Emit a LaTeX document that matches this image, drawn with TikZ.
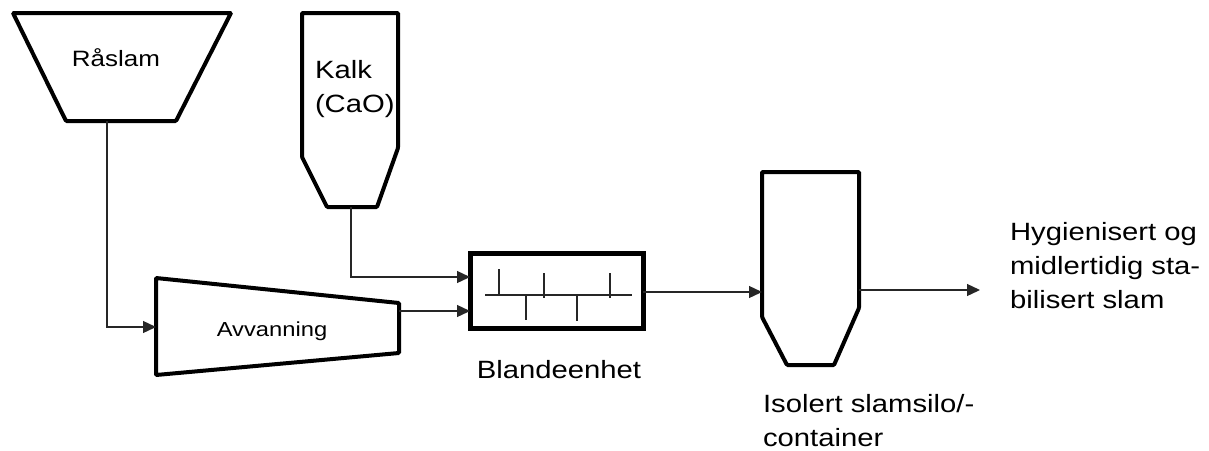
\documentclass[tikz,border=0pt]{standalone}
\usepackage{fontspec}
\setmainfont{Liberation Sans}
\usepackage{graphicx}
\usetikzlibrary{arrows.meta}
\newcommand\lbl[2][l]{\scalebox{1.17}[1]{\begin{tabular}[t]{@{}#1@{}}#2\end{tabular}}}
\tikzset{
  unit/.style={line width=4pt, line join=miter, rounded corners=1pt},
  flow/.style={line width=1.3pt, draw=black!85, -{Triangle[length=13pt,width=12pt]}},
  plain/.style={line width=1.3pt, draw=black!85},
  mixer/.style={line width=1.2pt, draw=black!85},
  txt/.style={inner sep=0pt, outer sep=0pt, font=\fontsize{25}{34}\selectfont}
}
\begin{document}
\begin{tikzpicture}[x=1pt,y=-1pt]
\useasboundingbox (0,0) rectangle (1209,450);
% Råslam hopper
\draw[unit] (13,13) -- (231,13) -- (176,121) -- (66,121) -- cycle;
\coordinate (raslamout) at (107,121);
\node[txt, anchor=base, font=\fontsize{22.2}{30}\selectfont] (raslam) at (116,66) {\lbl{Råslam}};
% Kalk silo
\draw[unit] (302,13) -- (398,13) -- (398,148) -- (377,207) -- (327,207) -- (302,157) -- cycle;
\coordinate (kalkout) at (351,207);
\node[txt, anchor=base west] (kalk) at (315,78) {\lbl{Kalk\\(CaO)}};
% Avvanning
\draw[unit] (156,278) -- (399,303) -- (399,353) -- (156,375) -- cycle;
\coordinate (avvin) at (156,327);
\coordinate (avvout) at (399,311);
\node[txt, anchor=base, font=\fontsize{20.3}{28}\selectfont] (avv) at (272,336) {\lbl{Avvanning}};
% Blandeenhet
\draw[line width=5pt] (470,253) rectangle (643,328);
\coordinate (blin1) at (470,277);
\coordinate (blin2) at (470,311);
\coordinate (blout) at (643,292);
\draw[mixer] (485,295) -- (632,295);
\draw[mixer] (499,269) -- (499,295);
\draw[mixer] (544,273) -- (544,298);
\draw[mixer] (610,273) -- (610,298);
\draw[mixer] (526,295) -- (526,320);
\draw[mixer] (577,295) -- (577,321);
\node[txt, anchor=base] (blande) at (559,378) {\lbl{Blandeenhet}};
% Silo
\draw[unit] (762,172) -- (859,172) -- (859,308) -- (834,365) -- (787,365) -- (762,317) -- cycle;
\coordinate (siloin) at (762,292);
\coordinate (siloout) at (859,290);
\node[txt, anchor=base west] (silo) at (763,412) {\lbl{Isolert slamsilo/-\\container}};
% Product
\coordinate (prod) at (980,290);
\node[txt, anchor=base west] (hyg) at (1010,240) {\lbl{Hygienisert og\\midlertidig sta-\\bilisert slam}};
% Connectors
\draw[flow] (raslamout) |- (avvin);
\draw[flow] (kalkout) |- (blin1);
\draw[flow] (avvout) -- (blin2);
\draw[flow] (blout) -- (siloin);
\draw[flow] (siloout) -- (prod);
\end{tikzpicture}
\end{document}
